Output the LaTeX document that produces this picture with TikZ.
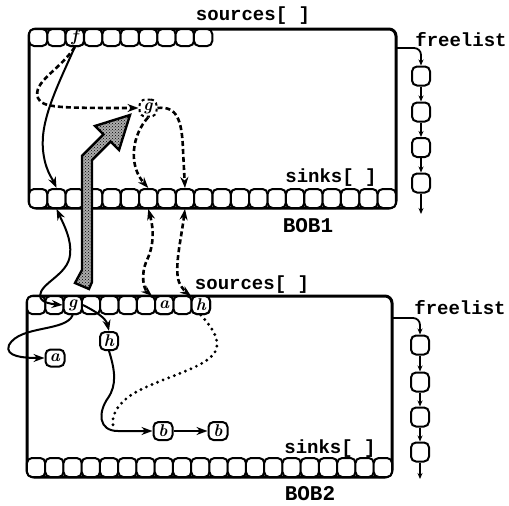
\documentclass[tikz,border=0pt]{standalone}
\usepackage{fontspec}
\setmonofont{Liberation Mono}
\usetikzlibrary{arrows.meta,patterns}
\begin{document}
\begin{tikzpicture}[x=1pt,y=-1pt,
  cell/.style={draw, line width=2pt, rounded corners=5pt, minimum width=18.3pt, minimum height=18pt, inner sep=0pt, fill=white, font=\fontsize{17}{17}\selectfont\bfseries\itshape},
  box/.style={draw, line width=3pt, rounded corners=7pt, inner sep=0pt},
  lab/.style={font=\fontsize{19}{19}\selectfont\ttfamily\bfseries, inner sep=0pt},
  boblab/.style={font=\fontsize{21}{21}\selectfont\ttfamily\bfseries, inner sep=0pt},
  fnode/.style={draw, line width=2pt, rounded corners=5pt, minimum width=18pt, minimum height=19pt, inner sep=0pt},
  lnode/.style={fnode, font=\fontsize{17}{17}\selectfont\bfseries\itshape},
  tipa/.tip={Stealth[length=11pt,width=8pt]},
  tipb/.tip={Stealth[length=6pt,width=5pt]},
  conn/.style={line width=2pt, -tipa},
  conntwo/.style={line width=2pt, tipa-tipa},
  dconn/.style={line width=2.6pt, dash pattern=on 5pt off 3pt, -tipa},
  dconntwo/.style={line width=2.6pt, dash pattern=on 5pt off 3pt, tipa-tipa},
  dotconn/.style={line width=3.2pt, dash pattern=on 0pt off 6pt, line cap=round},
  flconn/.style={line width=1.8pt, -tipb},
  bigarrow/.style={draw, line width=2.4pt, line join=miter, fill=gray!65, postaction={pattern=crosshatch dots, pattern color=black}}
]
\useasboundingbox (0,0) rectangle (509,506);

% ---------- BOB1 ----------
\node[box, minimum width=367pt, minimum height=179pt] (bob1) at (212.5,118.5) {};
\foreach \i in {1,...,10}
  \node[cell, minimum height=17pt] (sa\i) at ({29+(\i-0.5)*18.33},37.5) {};
\foreach \i in {1,...,20}
  \node[cell, minimum height=19pt] (ka\i) at ({29+(\i-0.5)*18.35},198.5) {};
\node[cell, minimum height=17pt] (f) at (sa3) {f};
\node[lab] (src1) at (253,16) {sources[ ]};
\node[lab] (snk1) at (331,178) {sinks[ ]};
\node[boblab] (lbob1) at (308,226) {BOB1};
\node[lab] (fll1) at (461,40) {freelist};
\node[draw, dashed, line width=2pt, rounded corners=6pt, minimum size=17pt, inner sep=0pt,
      font=\fontsize{17}{17}\selectfont\bfseries\itshape] (gd) at (148,108) {g};

% freelist 1
\coordinate (fs1) at (396,48);
\foreach \j/\y in {1/76,2/112,3/147.5,4/183}
  \node[fnode] (fa\j) at (421,\y) {};
\coordinate (fe1) at (421,214);
\draw[flconn, rounded corners=7pt] (fs1) -| (fa1.north);
\draw[flconn] (fa1) -- (fa2);
\draw[flconn] (fa2) -- (fa3);
\draw[flconn] (fa3) -- (fa4);
\draw[flconn] (fa4) -- (fe1);

% ---------- BOB2 ----------
\node[box, minimum width=365pt, minimum height=181pt] (bob2) at (209.5,386.5) {};
\foreach \i in {1,...,10}
  \node[cell, minimum height=18pt] (sb\i) at ({27+(\i-0.5)*18.3},305) {};
\foreach \i in {1,...,20}
  \node[cell, minimum height=19pt] (kb\i) at ({27+(\i-0.5)*18.25},467.5) {};
\node[cell] (g) at (sb3) {g};
\node[cell] (a) at (sb8) {a};
\node[cell] (h) at (sb10) {h};
\node[lab] (src2) at (252,285) {sources[ ]};
\node[lab] (snk2) at (330,449) {sinks[ ]};
\node[boblab] (lbob2) at (310,494) {BOB2};
\node[lab] (fll2) at (460,308) {freelist};

\node[lnode, minimum width=18pt, minimum height=18pt] (hn) at (109,341) {h};
\node[lnode, minimum width=19pt, minimum height=17pt] (an) at (55,358) {a};
\node[lnode, minimum width=19pt, minimum height=18pt] (bn1) at (163,431) {b};
\node[lnode, minimum width=19pt, minimum height=18pt] (bn2) at (218,431) {b};

% freelist 2
\coordinate (fs2) at (392,318);
\foreach \j/\y in {1/345,2/382,3/417,4/452}
  \node[fnode] (fb\j) at (420,\y) {};
\coordinate (fe2) at (420,479);
\draw[flconn, rounded corners=7pt] (fs2) -| (fb1.north);
\draw[flconn] (fb1) -- (fb2);
\draw[flconn] (fb2) -- (fb3);
\draw[flconn] (fb3) -- (fb4);
\draw[flconn] (fb4) -- (fe2);

% ---------- big shaded arrow ----------
\path[bigarrow] (82,270) -- (82,155.9) -- (103.46,134.46) -- (94.98,125.98) -- (130,115)
   -- (119.02,150.02) -- (110.54,141.54) -- (92,160.1) -- (92,282) -- (89,289) -- (75,283) -- cycle;

% ---------- connectors in BOB1 ----------
\draw[conn] (f.south) .. controls (58,85) and (40,120) .. (43,150)
   .. controls (45,170) and (52,178) .. (ka2.north);
\draw[dconn] (f.south) .. controls (60,70) and (32,82) .. (38,98)
   .. controls (42,108) and (60,108) .. (gd.west);
\draw[dconn] (gd.south) .. controls (132,135) and (128,165) .. (ka7.north);
\draw[dconn] (gd.east) .. controls (176,106) and (182,118) .. (183,150) -- (ka9.north);

% ---------- connectors between boxes ----------
\draw[conntwo] (ka2.south) .. controls (64,225) and (72,240) .. (70,255)
   .. controls (68,275) and (40,283) .. (40,296)
   .. controls (41,303) and (52,304) .. (g.west);
\draw[dconntwo] (ka7.south) .. controls (154,230) and (154,245) .. (147,260)
   .. controls (140,275) and (144,289) .. (152,296);
\draw[dconntwo] (ka9.south) .. controls (181,240) and (174,268) .. (179,282)
   .. controls (182,289) and (187,293) .. (191,296);

% ---------- connectors in BOB2 ----------
\draw[conn] (g.east) .. controls (95,311) and (106,318) .. (hn.north);
\draw[conn] (g.south) .. controls (66,332) and (20,325) .. (9,345)
   .. controls (4,357) and (25,358) .. (an.west);
\draw[conn] (hn.south) .. controls (115,370) and (117,385) .. (108,398)
   .. controls (98,412) and (98,431) .. (118,431) -- (bn1.west);
\draw[conn] (bn1.east) -- (bn2.west);
\draw[dotconn] (h.south) .. controls (210,325) and (222,340) .. (215,352)
   .. controls (205,370) and (150,380) .. (127,398)
   .. controls (115,408) and (112,417) .. (113,425);
\end{tikzpicture}
\end{document}
